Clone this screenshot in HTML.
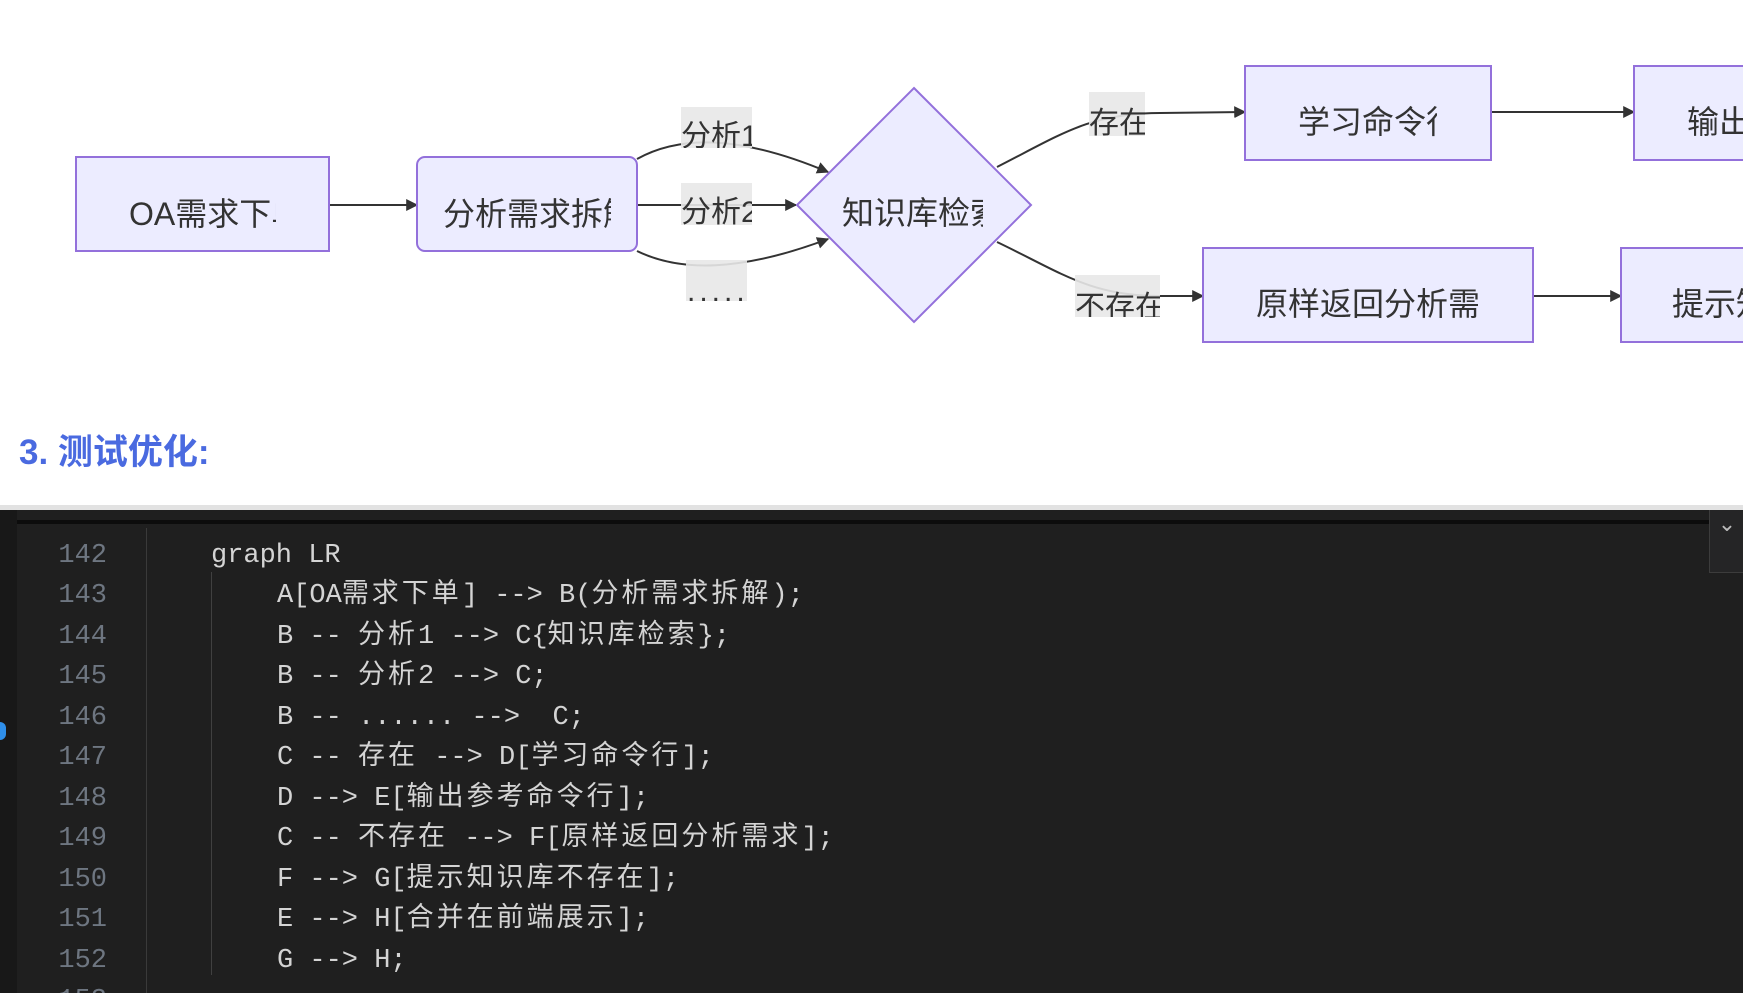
<!DOCTYPE html>
<html><head><meta charset="utf-8"><style>
html,body{margin:0;padding:0;width:1743px;height:993px;overflow:hidden;background:#fff;position:relative}
#ed{position:absolute;left:0;top:510px;width:1743px;height:483px;background:#1f1f1f}
.ln{position:absolute;left:40px;width:67px;text-align:right;color:#6e7681;font:27px/40px "Liberation Mono",monospace;height:40px;margin-top:4px}
.cd{position:absolute;color:#d4d4d4;font:27px/40px "Liberation Mono","Noto Sans CJK SC",monospace;white-space:pre;height:40px;margin-top:4px}
.cd i{font-style:normal;letter-spacing:3px;font-family:"Noto Sans CJK SC",sans-serif;line-height:1px}
</style></head><body>
<svg width="1743" height="510" style="position:absolute;left:0;top:0" font-family="Liberation Sans, Noto Sans CJK SC, sans-serif">
<defs>
<marker id="ar" viewBox="0 0 10 10" refX="9" refY="5" markerWidth="12" markerHeight="12" markerUnits="userSpaceOnUse" orient="auto"><path d="M0,0L10,5L0,10z" fill="#333"/></marker>
<clipPath id="ca"><rect x="76" y="157" width="200" height="94"/></clipPath>
<clipPath id="cb"><rect x="417" y="157" width="194" height="94"/></clipPath>
<clipPath id="cc"><rect x="830" y="150" width="153" height="94"/></clipPath>
<clipPath id="cd"><rect x="1245" y="66" width="192" height="94"/></clipPath>
<clipPath id="ce"><rect x="1634" y="66" width="109" height="94"/></clipPath>
<clipPath id="cf"><rect x="1203" y="248" width="275" height="94"/></clipPath>
<clipPath id="cg"><rect x="1621" y="248" width="122" height="94"/></clipPath>
<clipPath id="l1"><rect x="681" y="107" width="71" height="41"/></clipPath>
<clipPath id="l2"><rect x="681" y="183" width="71" height="42"/></clipPath>
<clipPath id="l4"><rect x="1089" y="92" width="56" height="44"/></clipPath>
<clipPath id="l5"><rect x="1075" y="275" width="85" height="42"/></clipPath>
</defs>
<g stroke="#333" stroke-width="2" fill="none">
<path d="M329,205L417,205" marker-end="url(#ar)"/>
<path d="M637,159C680,135 740,135 828,172" marker-end="url(#ar)"/>
<path d="M637,205L796,205" marker-end="url(#ar)"/>
<path d="M637,251C680,272 740,272 828,239" marker-end="url(#ar)"/>
<path d="M997,167C1060,135 1090,113 1160,113L1245,112" marker-end="url(#ar)"/>
<path d="M997,242C1060,272 1090,296 1160,296L1203,296" marker-end="url(#ar)"/>
<path d="M1491,112L1634,112" marker-end="url(#ar)"/>
<path d="M1533,296L1621,296" marker-end="url(#ar)"/>
</g>
<g fill="#e8e8e8" opacity="0.9">
<rect x="681" y="107" width="71" height="41"/>
<rect x="681" y="183" width="71" height="42"/>
<rect x="686" y="260" width="61" height="41"/>
<rect x="1089" y="92" width="56" height="44"/>
<rect x="1075" y="275" width="85" height="42"/>
</g>
<g fill="#333" font-size="30">
<text x="681" y="146" clip-path="url(#l1)">分析1</text>
<text x="681" y="222" clip-path="url(#l2)">分析2</text>
<text x="687" y="301" letter-spacing="4">.....</text>
<text x="1089" y="133" clip-path="url(#l4)">存在</text>
<text x="1075" y="317" clip-path="url(#l5)">不存在</text>
</g>
<g fill="#ececff" stroke="#9370db" stroke-width="2">
<rect x="76" y="157" width="253" height="94"/>
<rect x="417" y="157" width="220" height="94" rx="8"/>
<polygon points="914,88 1031,205 914,322 797,205"/>
<rect x="1245" y="66" width="246" height="94"/>
<rect x="1634" y="66" width="120" height="94"/>
<rect x="1203" y="248" width="330" height="94"/>
<rect x="1621" y="248" width="130" height="94"/>
</g>
<g fill="#333" font-size="32">
<text x="129" y="225" clip-path="url(#ca)">OA需求下单</text>
<text x="443" y="225" clip-path="url(#cb)">分析需求拆解</text>
<text x="842" y="224" clip-path="url(#cc)">知识库检索</text>
<text x="1298" y="133" clip-path="url(#cd)">学习命令行</text>
<text x="1687" y="133" clip-path="url(#ce)">输出参考</text>
<text x="1256" y="315" clip-path="url(#cf)">原样返回分析需求</text>
<text x="1672" y="315" clip-path="url(#cg)">提示知识库</text>
</g>
<text x="19" y="464" font-size="35" font-weight="bold" fill="#4a6ae0">3. 测试优化:</text>
<rect x="0" y="505" width="1743" height="5" fill="#e2e2e2"/>
</svg>
<div id="ed">
<div style="position:absolute;left:0;top:0;width:17px;height:483px;background:#181818"></div>
<div style="position:absolute;left:17px;top:10px;width:1692px;height:4px;background:#0c0c0c"></div>
<div style="position:absolute;left:146px;top:18px;width:1px;height:465px;background:#3a3a3a"></div>
<div style="position:absolute;left:211px;top:62px;width:1px;height:403px;background:#404040"></div>
<div style="position:absolute;left:1709px;top:0;width:34px;height:62px;background:#252526;border-left:1px solid #3c3c3c;border-bottom:1px solid #3c3c3c;color:#bbb;font:22px 'DejaVu Sans';text-align:center;line-height:30px">⌄</div>
<div style="position:absolute;left:-6px;top:212px;width:12px;height:18px;border-radius:6px;background:#2f8fea"></div>
<div class="ln" style="top:22px">142</div><div class="cd" style="left:211px;top:22px">graph LR</div>
<div class="ln" style="top:62px">143</div><div class="cd" style="left:277px;top:62px">A[OA<i>需求下单</i>] --> B(<i>分析需求拆解</i>);</div>
<div class="ln" style="top:103px">144</div><div class="cd" style="left:277px;top:103px">B -- <i>分析</i>1 --> C{<i>知识库检索</i>};</div>
<div class="ln" style="top:143px">145</div><div class="cd" style="left:277px;top:143px">B -- <i>分析</i>2 --> C;</div>
<div class="ln" style="top:184px">146</div><div class="cd" style="left:277px;top:184px">B -- ...... -->  C;</div>
<div class="ln" style="top:224px">147</div><div class="cd" style="left:277px;top:224px">C -- <i>存在</i> --> D[<i>学习命令行</i>];</div>
<div class="ln" style="top:265px">148</div><div class="cd" style="left:277px;top:265px">D --> E[<i>输出参考命令行</i>];</div>
<div class="ln" style="top:305px">149</div><div class="cd" style="left:277px;top:305px">C -- <i>不存在</i> --> F[<i>原样返回分析需求</i>];</div>
<div class="ln" style="top:346px">150</div><div class="cd" style="left:277px;top:346px">F --> G[<i>提示知识库不存在</i>];</div>
<div class="ln" style="top:386px">151</div><div class="cd" style="left:277px;top:386px">E --> H[<i>合并在前端展示</i>];</div>
<div class="ln" style="top:427px">152</div><div class="cd" style="left:277px;top:427px">G --> H;</div>
<div class="ln" style="top:467px">153</div><div class="cd" style="left:211px;top:467px">
